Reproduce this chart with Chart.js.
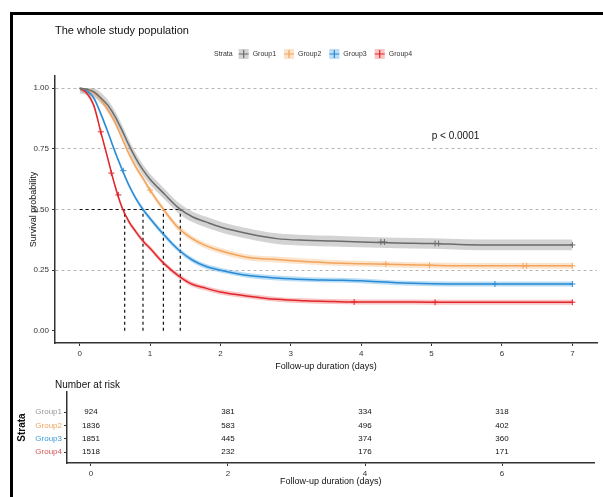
<!DOCTYPE html>
<html>
<head>
<meta charset="utf-8">
<script src="https://cdn.jsdelivr.net/npm/chart.js@4.4.1/dist/chart.umd.min.js"></script>
<style>
  body { margin: 0; background: #fff; width: 603px; height: 497px; overflow: hidden; position: relative; }
  .frame { position: absolute; left: 10px; top: 12px; width: 600px; height: 490px; border-left: 3px solid #000; border-top: 3px solid #000; }
  #survCanvas { position: absolute; left: 14px; top: 16px; }
  #riskCanvas { position: absolute; left: 14px; top: 378px; }
</style>
</head>
<body>
<div class="frame"></div>
<canvas id="survCanvas" width="589" height="365"></canvas>
<canvas id="riskCanvas" width="589" height="119"></canvas>
<script>
let groupNames = ['Group1', 'Group2', 'Group3', 'Group4'];
let lineColours = ['#6b6b6b', '#f3a45c', '#2a8ad4', '#e2262b'];
let bandColours = ['rgba(140,140,140,0.38)', 'rgba(246,176,110,0.35)', 'rgba(70,165,230,0.38)', 'rgba(236,100,100,0.38)'];
let labelColours = ['#9a9a9a', '#f0a65e', '#3d9bd9', '#d9595a'];

let times = [0, 0.1, 0.2, 0.3, 0.4, 0.5, 0.6, 0.7, 0.8, 0.9, 1.0, 1.2, 1.4, 1.6, 1.8, 2.0, 2.4, 2.8, 3.2, 3.6, 4.0, 4.5, 5.0, 5.5, 6.0, 6.5, 7.0];
let survGroup1 = [1.0, 0.995, 0.985, 0.96, 0.93, 0.885, 0.828, 0.765, 0.71, 0.663, 0.625, 0.565, 0.508, 0.47, 0.448, 0.428, 0.4, 0.38, 0.373, 0.37, 0.366, 0.362, 0.36, 0.355, 0.354, 0.354, 0.354];
let survGroup2 = [1.0, 0.995, 0.982, 0.955, 0.91, 0.86, 0.795, 0.73, 0.675, 0.628, 0.58, 0.497, 0.425, 0.38, 0.35, 0.33, 0.302, 0.294, 0.286, 0.28, 0.277, 0.273, 0.27, 0.268, 0.268, 0.268, 0.268];
let survGroup3 = [1.0, 0.99, 0.96, 0.895, 0.82, 0.74, 0.667, 0.6, 0.545, 0.5, 0.463, 0.395, 0.335, 0.292, 0.265, 0.25, 0.228, 0.218, 0.212, 0.209, 0.206, 0.198, 0.194, 0.193, 0.193, 0.193, 0.193];
let survGroup4 = [1.0, 0.98, 0.93, 0.82, 0.71, 0.6, 0.51, 0.45, 0.408, 0.37, 0.34, 0.277, 0.228, 0.192, 0.175, 0.16, 0.143, 0.13, 0.124, 0.121, 0.119, 0.119, 0.118, 0.118, 0.118, 0.118, 0.118];
let ciHalfWidth = [0.022, 0.012, 0.01, 0.01];

let medianTimes = [1.43, 1.19, 0.9, 0.64];
let censorGroup1 = [[4.28, 0.366], [4.33, 0.366], [5.05, 0.36], [5.1, 0.36], [7.0, 0.354]];
let censorGroup2 = [[1.0, 0.58], [4.35, 0.276], [4.97, 0.27], [6.3, 0.268], [6.35, 0.268], [7.0, 0.268]];
let censorGroup3 = [[0.62, 0.66], [5.9, 0.193], [7.0, 0.193]];
let censorGroup4 = [[0.3, 0.82], [0.45, 0.65], [0.55, 0.56], [3.9, 0.119], [5.05, 0.118], [7.0, 0.118]];

let xTicks = [0, 1, 2, 3, 4, 5, 6, 7];
let yTicks = [0, 0.25, 0.5, 0.75, 1];
let riskTimes = [0, 2, 4, 6];
let riskGroup1 = [924, 381, 334, 318];
let riskGroup2 = [1836, 583, 496, 402];
let riskGroup3 = [1851, 445, 374, 360];
let riskGroup4 = [1518, 232, 176, 171];

let survAll = [survGroup1, survGroup2, survGroup3, survGroup4];
let censorAll = [censorGroup1, censorGroup2, censorGroup3, censorGroup4];
let riskAll = [riskGroup1, riskGroup2, riskGroup3, riskGroup4];
let fontName = "'Liberation Sans', Arial, sans-serif";

/**
 * Turns a survival array into {x, y} points, optionally shifted for the CI band.
 *
 * @param {Array<number>} values - Survival values at each time.
 * @param {number} shift - Offset added to every value.
 */
function toPoints(values, shift) {
  return values.map((v, i) => ({ x: times[i], y: Math.min(1, v + shift) }));
}

/**
 * Builds all datasets of the survival plot. Lines first so they end up on top.
 */
function buildSurvDatasets() {
  let lines = [], censors = [], bands = [];
  let bandStart = 4 + 4 + 1;
  survAll.forEach((surv, g) => {
    lines.push({ data: toPoints(surv, 0), borderColor: lineColours[g], borderWidth: 1.5, pointRadius: 0, cubicInterpolationMode: 'monotone', fill: false });
    censors.push({ data: censorAll[g].map(c => ({ x: c[0], y: c[1] })), showLine: false, pointStyle: 'cross', pointRadius: 3, borderColor: lineColours[g], borderWidth: 1 });
  });
  let medianPts = [{ x: 0, y: 0.5 }, { x: Math.max(...medianTimes), y: 0.5 }, { x: null, y: null }];
  medianTimes.forEach(m => medianPts.push({ x: m, y: 0 }, { x: m, y: 0.5 }, { x: null, y: null }));
  let median = { data: medianPts, borderColor: '#111', borderWidth: 1.2, borderDash: [3, 3], pointRadius: 0, spanGaps: false, fill: false };
  survAll.forEach((surv, g) => {
    let upperIndex = bandStart + g * 2;
    bands.push({ data: toPoints(surv, ciHalfWidth[g]), borderWidth: 0, pointRadius: 0, cubicInterpolationMode: 'monotone', backgroundColor: bandColours[g], fill: { target: upperIndex + 1 } });
    bands.push({ data: toPoints(surv, -ciHalfWidth[g]), borderWidth: 0, pointRadius: 0, cubicInterpolationMode: 'monotone', fill: false });
  });
  return [...lines, ...censors, median, ...bands];
}

let survDecor = {
  id: 'survDecor',
  afterDraw(chart) {
    let ctx = chart.ctx, xs = chart.scales.x, ys = chart.scales.y;
    ctx.save();
    ctx.fillStyle = '#111';
    ctx.font = '11px ' + fontName;
    ctx.textBaseline = 'middle';
    ctx.textAlign = 'left';
    ctx.fillText('The whole study population', 41, 15);
    ctx.font = '10px ' + fontName;
    ctx.textAlign = 'center';
    ctx.fillText('p < 0.0001', xs.getPixelForValue(5.34), ys.getPixelForValue(0.8));
    // legend row
    ctx.font = '7px ' + fontName;
    ctx.textAlign = 'left';
    ctx.fillStyle = '#333';
    let x = 200, y = 38;
    ctx.fillText('Strata', x, y);
    x += ctx.measureText('Strata').width + 6;
    groupNames.forEach((name, g) => {
      ctx.fillStyle = bandColours[g];
      ctx.fillRect(x, y - 5, 10, 10);
      ctx.strokeStyle = lineColours[g];
      ctx.lineWidth = 1.2;
      ctx.beginPath();
      ctx.moveTo(x, y); ctx.lineTo(x + 10, y);
      ctx.moveTo(x + 5, y - 4); ctx.lineTo(x + 5, y + 4);
      ctx.stroke();
      x += 14;
      ctx.fillStyle = '#333';
      ctx.fillText(name, x, y);
      x += ctx.measureText(name).width + 8;
    });
    ctx.restore();
  }
};

let survChart = new Chart(document.getElementById('survCanvas'), {
  type: 'line',
  data: { datasets: buildSurvDatasets() },
  options: {
    responsive: false, animation: false, parsing: true,
    layout: { padding: { top: 60, right: 6, left: 0, bottom: 0 } },
    plugins: { legend: { display: false }, tooltip: { enabled: false }, filler: { drawTime: 'beforeDatasetsDraw' } },
    scales: {
      x: {
        type: 'linear', min: -0.35, max: 7.35,
        afterBuildTicks: s => { s.ticks = xTicks.map(v => ({ value: v })); },
        afterFit: s => { s.height = 38; },
        ticks: { color: '#333', font: { size: 8, family: fontName }, padding: 3, callback: v => String(v) },
        grid: { drawOnChartArea: false, tickLength: 3, color: '#333' },
        border: { color: '#333', width: 1.5 },
        title: { display: true, text: 'Follow-up duration (days)', color: '#111', font: { size: 9, family: fontName }, padding: { top: 9, bottom: 9 } }
      },
      y: {
        type: 'linear', min: -0.05, max: 1.05,
        afterBuildTicks: s => { s.ticks = yTicks.map(v => ({ value: v })); },
        afterFit: s => { s.width = 41; },
        ticks: { color: '#333', font: { size: 8, family: fontName }, padding: 3, callback: v => v.toFixed(2) },
        grid: { color: ctx => ctx.tick && ctx.tick.value > 0 ? '#b5b5b5' : 'rgba(0,0,0,0)', tickColor: '#333', tickLength: 3, lineWidth: 1 },
        border: { color: '#333', width: 1.5, dash: [3, 3] },
        title: { display: true, text: 'Survival probability', color: '#111', font: { size: 9, family: fontName }, padding: { top: 14, bottom: 0 } }
      }
    }
  },
  plugins: [survDecor]
});

/**
 * Builds the invisible anchor points for the number-at-risk table.
 */
function buildRiskDatasets() {
  return riskAll.map((row, g) => ({
    data: row.map((n, i) => ({ x: riskTimes[i], y: 4 - g, n: n })),
    pointRadius: 0, showLine: false
  }));
}

let riskText = {
  id: 'riskText',
  afterDatasetsDraw(chart) {
    let ctx = chart.ctx;
    ctx.save();
    ctx.font = '8px ' + fontName;
    ctx.fillStyle = '#111';
    ctx.textAlign = 'center';
    ctx.textBaseline = 'middle';
    chart.data.datasets.forEach((ds, g) => {
      chart.getDatasetMeta(g).data.forEach((pt, i) => {
        ctx.fillText(String(ds.data[i].n), pt.x, pt.y);
      });
    });
    ctx.font = '10px ' + fontName;
    ctx.textAlign = 'left';
    ctx.fillText('Number at risk', 41, 7);
    ctx.restore();
  }
};

let riskChart = new Chart(document.getElementById('riskCanvas'), {
  type: 'scatter',
  data: { datasets: buildRiskDatasets() },
  options: {
    responsive: false, animation: false,
    layout: { padding: { top: 14, right: 8.5, left: 0, bottom: 0 } },
    plugins: { legend: { display: false }, tooltip: { enabled: false } },
    scales: {
      x: {
        type: 'linear', min: -0.35, max: 7.35,
        afterBuildTicks: s => { s.ticks = riskTimes.map(v => ({ value: v })); },
        afterFit: s => { s.height = 34; },
        ticks: { color: '#333', font: { size: 8, family: fontName }, padding: 3, callback: v => String(v) },
        grid: { drawOnChartArea: false, tickLength: 3, color: '#333' },
        border: { color: '#333', width: 1.5 },
        title: { display: true, text: 'Follow-up duration (days)', color: '#111', font: { size: 9, family: fontName }, padding: { top: 10, bottom: 10 } }
      },
      y: {
        type: 'linear', min: 0.2, max: 5.5,
        afterBuildTicks: s => { s.ticks = [4, 3, 2, 1].map(v => ({ value: v })); },
        afterFit: s => { s.width = 53; },
        ticks: { color: labelColours, font: { size: 8, family: fontName }, padding: 2, callback: v => groupNames[4 - v] },
        grid: { drawOnChartArea: false, tickLength: 3, color: '#333' },
        border: { color: '#333', width: 1.5 },
        title: { display: true, text: 'Strata', color: '#111', font: { size: 10, family: fontName, weight: 'bold' }, padding: { top: 2, bottom: 0 } }
      }
    }
  },
  plugins: [riskText]
});
</script>
</body>
</html>
